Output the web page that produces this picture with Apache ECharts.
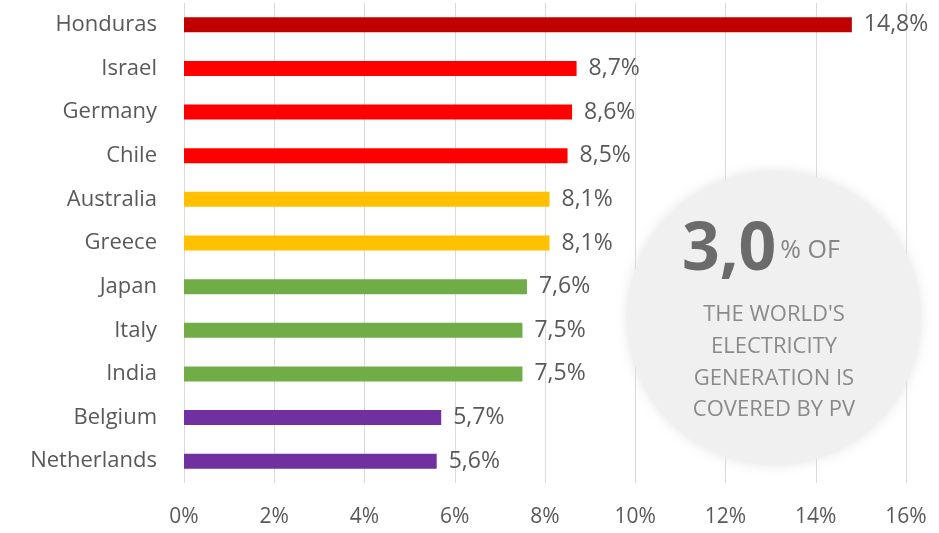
<!DOCTYPE html>
<html>
<head>
<meta charset="utf-8">
<script src="https://cdn.jsdelivr.net/npm/echarts@6/dist/echarts.min.js"></script>
<style>html,body{margin:0;padding:0;background:#fff;}#c{width:939px;height:533px;}</style>
</head>
<body>
<div id="c"></div>
<script>
var categories = ['Honduras','Israel','Germany','Chile','Australia','Greece','Japan','Italy','India','Belgium','Netherlands'];
var values = [14.8, 8.7, 8.6, 8.5, 8.1, 8.1, 7.6, 7.5, 7.5, 5.7, 5.6];
var barColors = ['#c00000','#ff0000','#ff0000','#ff0000','#ffc000','#ffc000','#70ad47','#70ad47','#70ad47','#7030a0','#7030a0'];
var xTicks = [0, 2, 4, 6, 8, 10, 12, 14, 16];

var chart = echarts.init(document.getElementById('c'));
var font = '"Open Sans", Lato, sans-serif';
chart.setOption({
  animation: false,
  grid: {left: 184, right: 33, top: 3, bottom: 50, containLabel: false},
  xAxis: {
    type: 'value', min: xTicks[0], max: xTicks[xTicks.length - 1], interval: 2,
    axisLine: {show: false}, axisTick: {show: false},
    splitLine: {show: true, lineStyle: {color: '#d9d9d9', width: 1}},
    axisLabel: {margin: 24, color: '#595959', fontSize: 21, fontFamily: font,
      formatter: function (v) { return v + '%'; }}
  },
  yAxis: {
    type: 'category', data: categories, inverse: true,
    axisLine: {show: false}, axisTick: {show: false},
    axisLabel: {margin: 27, color: '#595959', fontSize: 22, fontFamily: font}
  },
  graphic: [
    {type: 'circle', z: 1, shape: {cx: 774, cy: 318, r: 147},
     style: {fill: '#f0f0f0', shadowBlur: 12, shadowColor: 'rgba(225,225,225,0.9)'}},
    {type: 'text', z: 3, left: 682, top: 218,
     style: {rich: {
       a: {fontSize: 66, fontWeight: 'bold', fill: '#6b6b6b', fontFamily: font},
       b: {fontSize: 25, fill: '#858585', fontFamily: font, padding: [0, 0, 0, 4]}
     }, text: '{a|3,0}{b|% OF}'}},
    {type: 'text', z: 3, x: 774, y: 299,
     style: {text: "THE WORLD'S\nELECTRICITY\nGENERATION IS\nCOVERED BY PV",
       fontSize: 22, lineHeight: 31.7, fill: '#8a8a8a', fontFamily: font,
       textAlign: 'center', textVerticalAlign: 'top'}}
  ],
  series: [{
    type: 'bar', z: 2, barWidth: 15,
    data: values.map(function (v, i) { return {value: v, itemStyle: {color: barColors[i]}}; }),
    label: {show: true, position: 'right', distance: 12, color: '#595959', fontSize: 23, fontFamily: font,
      formatter: function (p) { return p.value.toFixed(1).replace('.', ',') + '%'; }}
  }]
});
</script>
</body>
</html>
